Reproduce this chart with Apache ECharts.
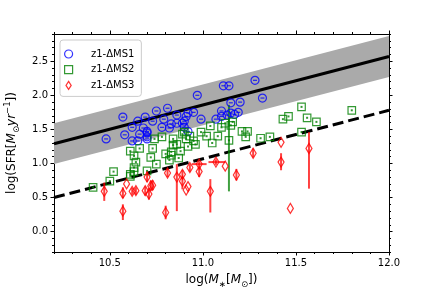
<!DOCTYPE html>
<html><head><meta charset="utf-8">
<script src="https://cdn.jsdelivr.net/npm/echarts@6/dist/echarts.min.js"></script>
<style>html,body{margin:0;padding:0;background:#fff}#c{width:432px;height:288px}</style>
</head><body><div id="c"></div>
<script>
// ---- data ----
const ms1X = [10.48,10.57,10.58,10.62,10.62,10.65,10.65,10.66,10.68,10.69,10.70,10.70,10.70,10.70,10.73,10.75,10.78,10.79,10.81,10.82,10.83,10.86,10.86,10.89,10.90,10.90,10.92,10.91,10.92,10.97,10.99,11.07,11.10,11.10,11.11,11.14,11.13,11.15,11.20,11.15,11.28,11.32,11.17,11.19,10.95];
const ms1Y = [1.36,1.68,1.42,1.53,1.33,1.33,1.62,1.43,1.52,1.68,1.45,1.36,1.39,1.47,1.62,1.77,1.53,1.65,1.81,1.52,1.58,1.71,1.59,1.59,1.62,1.53,1.47,1.69,1.74,2.00,1.65,1.65,1.77,1.69,2.14,2.14,1.71,1.74,1.90,1.89,2.22,1.96,1.72,1.75,1.75];

const ms2X = [10.41,10.50,10.52,10.61,10.63,10.63,10.64,10.63,10.61,10.66,10.73,10.72,10.75,10.70,10.83,10.82,10.78,10.74,10.84,10.86,10.89,10.90,10.93,10.95,10.99,11.02,11.08,11.05,11.04,11.10,11.12,11.15,11.16,11.21,11.24,11.23,11.31,11.36,11.43,11.46,11.53,11.53,11.56,11.61,11.80,11.14,10.80,10.84,10.83,10.87,10.88,10.91,10.92,10.96,10.61];
const ms2Y = [0.65,0.74,0.88,0.84,0.88,0.94,1.02,1.11,1.18,1.22,1.22,1.09,0.99,0.89,1.12,1.05,1.39,1.36,1.36,1.28,1.43,1.46,1.40,1.33,1.46,1.40,1.40,1.30,1.55,1.53,1.59,1.56,1.61,1.47,1.47,1.39,1.37,1.39,1.65,1.69,1.83,1.46,1.67,1.61,1.78,1.34,1.14,1.27,1.17,1.08,1.18,1.36,1.25,1.28,0.81];
const ms2ErrX = [11.14];
const ms2ErrLo = [0.59];
const ms2ErrHi = [1.86];

const ms3X  = [10.47,10.57,10.57,10.59,10.62,10.64,10.69,10.71,10.72,10.73,10.70,10.80,10.81,10.86,10.89,10.89,10.91,10.92,10.93,10.98,10.98,11.04,11.07,11.12,11.18,11.27,11.42,11.42,11.47,11.57];
const ms3Y  = [0.59,0.56,0.30,0.70,0.59,0.60,0.60,0.55,0.67,0.68,0.80,0.28,0.86,0.80,0.74,0.84,0.61,0.66,0.94,0.99,0.88,0.59,1.02,0.96,0.83,1.15,1.02,1.31,0.34,1.22];
const ms3Lo = [0.45,0.49,0.17,null,0.54,0.54,0.53,0.47,0.60,0.61,0.73,0.18,0.80,0.30,0.62,0.78,null,null,0.88,0.95,0.80,0.28,0.98,null,0.75,1.09,0.90,null,null,0.63];
const ms3Hi = [0.72,0.65,0.40,null,0.64,0.65,0.66,0.64,0.75,0.75,0.88,0.38,0.92,0.99,0.80,0.90,null,null,0.99,1.03,0.95,0.77,1.06,null,0.92,1.22,1.15,null,null,1.46];
const ms3XLo = [null,null,null,null,null,null,null,null,null,null,null,null,null,null,null,null,null,null,null,10.94,null,null,11.03,null,null,null,null,null,null,null];
const ms3XHi = [null,null,null,null,null,null,null,null,null,null,null,null,null,null,null,null,null,null,null,11.02,null,null,11.12,null,null,null,null,null,null,null];

const lineX = [10.2, 12.0];
const solidY = [1.29, 2.57];
const dashedY = [0.50, 1.78];
const bandHalf = 0.3;

const xMajor = [10.5, 11.0, 11.5, 12.0];
const xMinor = [10.2,10.3,10.4,10.5,10.6,10.7,10.8,10.9,11.0,11.1,11.2,11.3,11.4,11.5,11.6,11.7,11.8,11.9,12.0];
const yMajor = [0.0, 0.5, 1.0, 1.5, 2.0, 2.5];
const yMinor = [-0.3,-0.2,-0.1,0.0,0.1,0.2,0.3,0.4,0.5,0.6,0.7,0.8,0.9,1.0,1.1,1.2,1.3,1.4,1.5,1.6,1.7,1.8,1.9,2.0,2.1,2.2,2.3,2.4,2.5,2.6,2.7,2.8,2.9];

const names = ['z1-\u0394MS1','z1-\u0394MS2','z1-\u0394MS3'];

// ---- build ----
const zip = (a,b) => a.map((v,i)=>[v,b[i]]);
const FONT = 'DejaVu Sans';
const XMIN=10.2, XMAX=12.0, YMIN=-0.3, YMAX=2.9;

const errV = [];
ms3X.forEach((x,i)=>{ if(ms3Lo[i]!==null) errV.push([x, ms3Lo[i], ms3Hi[i]]); });
const errH = [];
ms3X.forEach((x,i)=>{ if(ms3XLo[i]!==null) errH.push([ms3Y[i], ms3XLo[i], ms3XHi[i]]); });
const errG = ms2ErrX.map((x,i)=>[x, ms2ErrLo[i], ms2ErrHi[i]]);

function vbar(color){
  return function(params, api){
    const p1 = api.coord([api.value(0), api.value(1)]);
    const p2 = api.coord([api.value(0), api.value(2)]);
    return {type:'line', shape:{x1:p1[0],y1:p1[1],x2:p2[0],y2:p2[1]}, style:{stroke:color, lineWidth:2}};
  };
}
function hbar(color){
  return function(params, api){
    const p1 = api.coord([api.value(1), api.value(0)]);
    const p2 = api.coord([api.value(2), api.value(0)]);
    return {type:'line', shape:{x1:p1[0],y1:p1[1],x2:p2[0],y2:p2[1]}, style:{stroke:color, lineWidth:2}};
  };
}

function xAx(pos, major){
  return {
    type:'value', min:XMIN, max:XMAX, position:pos,
    axisLine:{show:major, onZero:false, lineStyle:{color:'#000', width:1}},
    axisTick:{show:true, customValues: major ? xMajor : xMinor, length: major?3.5:2, lineStyle:{color:'#000', width:1}},
    axisLabel:{show: major && pos==='bottom', customValues:xMajor, formatter:v=>v.toFixed(1), fontSize:10, color:'#000', fontFamily:FONT, margin:6},
    splitLine:{show:false}
  };
}
function yAx(pos, major){
  return {
    type:'value', min:YMIN, max:YMAX, position:pos,
    axisLine:{show:major, onZero:false, lineStyle:{color:'#000', width:1}},
    axisTick:{show:true, customValues: major ? yMajor : yMinor, length: major?3.5:2, lineStyle:{color:'#000', width:1}},
    axisLabel:{show: major && pos==='left', customValues:yMajor, formatter:v=>v.toFixed(1), fontSize:10, color:'#000', fontFamily:FONT, margin:6},
    splitLine:{show:false}
  };
}

const xAxes = [xAx('bottom',true), xAx('bottom',false), xAx('top',true), xAx('top',false)];
const yAxes = [yAx('left',true), yAx('left',false), yAx('right',true), yAx('right',false)];

const richBase = {
  n:{fontSize:12, fontFamily:FONT, color:'#000', lineHeight:18},
  i:{fontSize:12, fontFamily:FONT, fontStyle:'italic', color:'#000', lineHeight:18},
  s:{fontSize:8.5, fontFamily:FONT, color:'#000', lineHeight:9, verticalAlign:'bottom'},
  p:{fontSize:8.5, fontFamily:FONT, color:'#000', lineHeight:9, verticalAlign:'top'}
};
xAxes[0].name = '{n|log(}{i|M}{s|\u2217}{n|[}{i|M}{s|\u2299}{n|])}';
xAxes[0].nameLocation = 'middle';
xAxes[0].nameGap = 19;
xAxes[0].nameTextStyle = {rich: richBase};
yAxes[0].name = '{n|log(SFR[}{i|M}{s|\u2299}{i|yr}{p|\u22121}{n|])}';
yAxes[0].nameLocation = 'middle';
yAxes[0].nameGap = 30;
yAxes[0].nameRotate = 90;
yAxes[0].nameTextStyle = {rich: richBase};

const hollow = (c,w) => ({color:'rgba(0,0,0,0)', borderColor:c, borderWidth:w||1});

const option = {
  animation:false,
  backgroundColor:'#fff',
  grid:{left:54, right:43, top:34, bottom:36, containLabel:false, outerBoundsMode:'none'},
  xAxis: xAxes,
  yAxis: yAxes,
  legend:{
    orient:'vertical', left:60, top:40,
    padding:[8,7,5,4], itemWidth:22, itemHeight:8, itemGap:3.7,
    backgroundColor:'rgba(255,255,255,0.8)', borderColor:'#cccccc', borderWidth:1, borderRadius:3,
    textStyle:{fontSize:10, fontFamily:FONT, color:'#000', lineHeight:12},
    formatter: n => '  ' + n,
    selectedMode:false,
    data:[
      {name:names[0], icon:'circle', itemStyle:hollow('#0000ff',1.2)},
      {name:names[1], icon:'path://M0,0L8,0L8,8L0,8Z', itemStyle:hollow('#008000',1.2)},
      {name:names[2], icon:'path://M0,-4L2.6,0L0,4L-2.6,0Z', itemStyle:hollow('#ff0000',1.2)}
    ]
  },
  series:[
    {type:'custom', name:'band', z:1, silent:true,
     data:[[0]],
     renderItem:function(params, api){
       const pts = [];
       lineX.forEach((x,i)=>pts.push(api.coord([x, solidY[i]+bandHalf])));
       for(let i=lineX.length-1;i>=0;i--) pts.push(api.coord([lineX[i], solidY[i]-bandHalf]));
       return {type:'polygon', shape:{points:pts}, style:{fill:'#aaaaaa'}};
     }},
    {type:'line', name:'solid', data:zip(lineX, solidY), symbol:'none', z:2,
     lineStyle:{color:'#000', width:3}},
    {type:'line', name:'dashed', data:zip(lineX, dashedY), symbol:'none', z:2,
     lineStyle:{color:'#000', width:3, type:[11,5]}},
    {type:'scatter', name:names[0], data:zip(ms1X, ms1Y), symbol:'circle', symbolSize:8, z:3,
     itemStyle:hollow('#0000ff',1.2)},
    {type:'scatter', name:'_ms1e', data:zip(ms1X, ms1Y), symbol:'rect', symbolSize:[4,1.2], z:3,
     itemStyle:{color:'#0000ff'}},
    {type:'custom', name:'_ms2err', data:errG, renderItem:vbar('rgba(0,128,0,0.75)'), z:3, encode:{x:0,y:[1,2]}},
    {type:'scatter', name:names[1], data:zip(ms2X, ms2Y), symbol:'rect', symbolSize:7.5, z:4,
     itemStyle:hollow('#008000',1.2)},
    {type:'scatter', name:'_ms2e', data:zip(ms2X, ms2Y), symbol:'rect', symbolSize:2, z:4,
     itemStyle:{color:'#008000'}},
    {type:'custom', name:'_ms3err', data:errV, renderItem:vbar('rgba(255,0,0,0.75)'), z:5, encode:{x:0,y:[1,2]}},
    {type:'custom', name:'_ms3errh', data:errH, renderItem:hbar('rgba(255,0,0,0.75)'), z:5, encode:{y:0,x:[1,2]}},
    {type:'scatter', name:names[2], data:zip(ms3X, ms3Y), symbol:'diamond', symbolSize:[6,10], z:6,
     itemStyle:{color:'rgba(0,0,0,0)', borderColor:'#ff0000', borderWidth:1.3}}
  ]
};
const chart = echarts.init(document.getElementById('c'), null, {renderer:'canvas'});
chart.setOption(option);
</script>
</body></html>
